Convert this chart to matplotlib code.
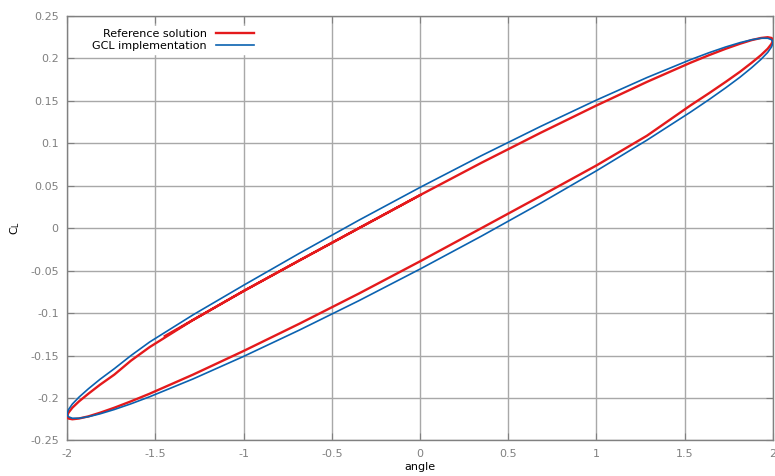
import matplotlib
matplotlib.use('Agg')
import matplotlib.pyplot as plt

plt.rcParams['font.family'] = 'DejaVu Sans'
plt.rcParams['axes.unicode_minus'] = False
plt.rcParams['mathtext.default'] = 'regular'

# Reference solution (red): starts mid upper branch, goes round once and a bit
ref_angle = [-1.446, -1.286, -1.000, -0.684, -0.347, 0.000, 0.347, 0.684, 1.000, 1.286,
             1.532, 1.638, 1.732, 1.813, 1.879, 1.932, 1.970, 1.992, 2.000, 1.992,
             1.970, 1.932, 1.879, 1.813, 1.732, 1.638, 1.532, 1.286, 1.000, 0.684,
             0.347, 0.000, -0.347, -0.684, -1.000, -1.286, -1.532, -1.638, -1.732, -1.813,
             -1.879, -1.932, -1.970, -1.992, -2.000, -1.992, -1.970, -1.932, -1.879, -1.813,
             -1.732, -1.638, -1.532, -1.286, -1.000, -0.684, -0.347, 0.000]
ref_cl = [-0.127, -0.108, -0.074, -0.038, 0.000, 0.039, 0.077, 0.1125, 0.1446, 0.1724,
          0.1949, 0.2039, 0.2114, 0.2173, 0.2216, 0.2241, 0.2250, 0.2241, 0.2216, 0.2173,
          0.2114, 0.2039, 0.1949, 0.1843, 0.1724, 0.1591, 0.1446, 0.109, 0.074, 0.038,
          0.000, -0.039, -0.077, -0.1125, -0.1446, -0.1724, -0.1949, -0.2039, -0.2114, -0.2173,
          -0.2216, -0.2241, -0.2250, -0.2241, -0.2216, -0.2173, -0.2114, -0.2039, -0.1949, -0.1843,
          -0.1724, -0.156, -0.140, -0.108, -0.074, -0.038, 0.000, 0.039]

# GCL implementation (blue): closed loop
gcl_angle = [-2.000, -1.992, -1.970, -1.932, -1.879, -1.813, -1.732, -1.638, -1.532, -1.286,
             -1.000, -0.684, -0.347, 0.000, 0.347, 0.684, 1.000, 1.286, 1.532, 1.638,
             1.732, 1.813, 1.879, 1.932, 1.970, 1.992, 2.000, 1.992, 1.970, 1.932,
             1.879, 1.813, 1.732, 1.638, 1.532, 1.286, 1.000, 0.684, 0.347, 0.000,
             -0.347, -0.684, -1.000, -1.286, -1.532, -1.638, -1.732, -1.813, -1.879, -1.932,
             -1.970, -1.992, -2.000]
gcl_cl = [-0.2188, -0.2137, -0.2071, -0.1989, -0.1891, -0.1779, -0.1654, -0.1500, -0.1340, -0.1020,
          -0.0672, -0.0296, 0.0094, 0.0481, 0.0854, 0.1200, 0.1510, 0.1775, 0.1985, 0.2068,
          0.2135, 0.2186, 0.2220, 0.2238, 0.2238, 0.2221, 0.2188, 0.2137, 0.2071, 0.1989,
          0.1891, 0.1779, 0.1654, 0.1516, 0.1367, 0.1038, 0.0677, 0.0296, -0.0094, -0.0481,
          -0.0854, -0.1200, -0.1510, -0.1775, -0.1985, -0.2068, -0.2135, -0.2186, -0.2220, -0.2238,
          -0.2238, -0.2221, -0.2188]

xticks = [-2, -1.5, -1, -0.5, 0, 0.5, 1, 1.5, 2]
xlabels = ['-2', '-1.5', '-1', '-0.5', '0', '0.5', '1', '1.5', '2']
yticks = [-0.25, -0.2, -0.15, -0.1, -0.05, 0, 0.05, 0.1, 0.15, 0.2, 0.25]
ylabels = ['-0.25', '-0.2', '-0.15', '-0.1', '-0.05', '0', '0.05', '0.1', '0.15', '0.2', '0.25']

red = '#e41a1c'
blue = '#0b62b0'
gray = '#808080'

fig = plt.figure(figsize=(7.75, 4.76), dpi=100)
ax = fig.add_axes([0.0865, 0.0746, 0.9109, 0.8918])

ax.plot(ref_angle, ref_cl, color=red, lw=1.7, label='Reference solution', zorder=3)
ax.plot(gcl_angle, gcl_cl, color=blue, lw=1.2, label='GCL implementation', zorder=4)

ax.set_xlim(-2, 2)
ax.set_ylim(-0.25, 0.25)
ax.set_xticks(xticks)
ax.set_xticklabels(xlabels)
ax.set_yticks(yticks)
ax.set_yticklabels(ylabels)
ax.tick_params(direction='in', length=5, color=gray, labelcolor=gray, labelsize=8,
               top=True, right=True, pad=6)

ax.grid(True, color='#a8a8a8', lw=1.0, zorder=0)
ax.set_axisbelow(True)
for s in ax.spines.values():
    s.set_color(gray)
    s.set_linewidth(1.0)

ax.set_xlabel('angle', fontsize=8, labelpad=2)
ax.set_ylabel('C$_L$', fontsize=8, labelpad=6)

leg = ax.legend(loc='upper left', bbox_to_anchor=(0.024, 0.99), markerfirst=False,
                frameon=True, fontsize=8, handlelength=3.4, handletextpad=0.8,
                labelspacing=0.25, borderpad=0.25, fancybox=False)
leg.get_frame().set_edgecolor('white')
leg.get_frame().set_facecolor('white')
leg.get_frame().set_alpha(1.0)

fig.savefig('out.png', dpi=100)
